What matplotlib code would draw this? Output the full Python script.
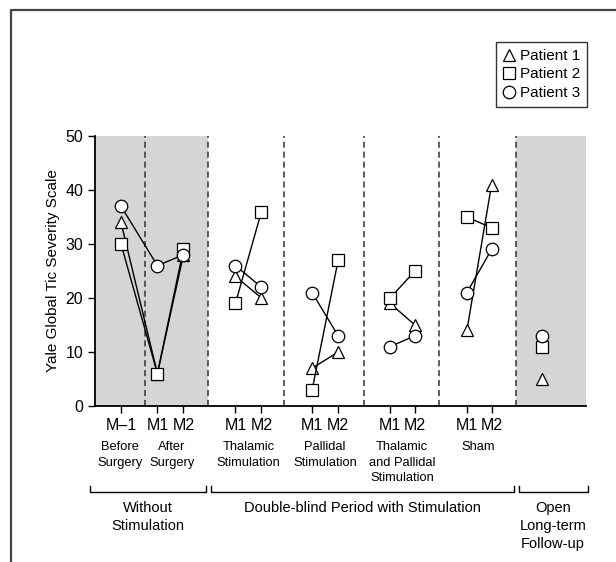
import matplotlib
matplotlib.use("Agg")
import matplotlib.pyplot as plt
from matplotlib.transforms import blended_transform_factory
from matplotlib.lines import Line2D

plt.rcParams['font.family'] = ['Liberation Sans', 'DejaVu Sans']

# x positions of the visits (categorical slots)
tick_pos = [1.0, 2.4, 3.4, 5.4, 6.4, 8.35, 9.35, 11.35, 12.3, 14.3, 15.25]
tick_labels = ["M\u20131", "M1", "M2", "M1", "M2", "M1", "M2", "M1", "M2", "M1", "M2"]
followup_pos = 17.2

# segments: which tick slots are joined by lines
segments = [(0, 1, 2), (3, 4), (5, 6), (7, 8), (9, 10)]

patient1 = [34, 6, 28, 24, 20, 7, 10, 19, 15, 14, 41]
patient2 = [30, 6, 29, 19, 36, 3, 27, 20, 25, 35, 33]
patient3 = [37, 26, 28, 26, 22, 21, 13, 11, 13, 21, 29]
followup = [5, 11, 13]  # patient 1, 2, 3

group_labels = ["Before\nSurgery", "After\nSurgery", "Thalamic\nStimulation",
                "Pallidal\nStimulation", "Thalamic\nand Pallidal\nStimulation", "Sham"]
group_x = [0.95, 2.95, 5.9, 8.85, 11.8, 14.75]
period_labels = ["Without\nStimulation", "Double-blind Period with Stimulation",
                 "Open\nLong-term\nFollow-up"]

dividers = [1.92, 4.35, 7.27, 10.35, 13.23, 16.19]
xmax = 18.88

fig = plt.figure(figsize=(6.16, 5.62), dpi=100)
ax = fig.add_axes([95/616, 1-406/562, (586-95)/616, 270/562])

gray = "#d4d5d7"
ax.axvspan(0, 4.35, color=gray, lw=0, zorder=0)
ax.axvspan(16.19, xmax, color=gray, lw=0, zorder=0)
for d in dividers:
    ax.axvline(d, color="#333333", lw=1.1, ls=(0, (4, 2.5)), zorder=1)

styles = [("^", patient1, "Patient 1"), ("s", patient2, "Patient 2"), ("o", patient3, "Patient 3")]
msize = {"^": 9, "s": 8, "o": 9}
for mk, vals, lab in styles:
    for seg in segments:
        xs = [tick_pos[i] for i in seg]
        ys = [vals[i] for i in seg]
        ax.plot(xs, ys, color="black", lw=1.0, marker=mk, ms=msize[mk],
                mfc="white", mec="black", mew=0.9, zorder=3)
for mk, v in zip(["^", "s", "o"], followup):
    ax.plot([followup_pos], [v], marker=mk, ms=msize[mk], mfc="white",
            mec="black", mew=0.9, ls="none", zorder=3)

ax.set_xlim(0, xmax)
ax.set_ylim(0, 50)
ax.set_yticks([0, 10, 20, 30, 40, 50])
ax.set_xticks(tick_pos)
ax.set_xticklabels(tick_labels)
ax.tick_params(axis="both", direction="out", length=5, width=1, labelsize=11.5, colors="black")
ax.tick_params(axis="x", pad=4)
for s in ["top", "right"]:
    ax.spines[s].set_visible(False)
for s in ["left", "bottom"]:
    ax.spines[s].set_linewidth(1.3)
ax.set_ylabel("Yale Global Tic Severity Scale", fontsize=11, labelpad=4)

tr = blended_transform_factory(ax.transData, fig.transFigure)
def fy(px):
    return 1 - px / 562

for gx, gl in zip(group_x, group_labels):
    ax.text(gx, fy(441), gl, transform=tr, ha="center", va="top", fontsize=9.3,
            linespacing=1.4)

brackets = [(-0.2, 4.25), (4.45, 16.1), (16.3, 18.95)]
for (x0, x1) in brackets:
    ax.add_line(Line2D([x0, x0, x1, x1], [fy(486), fy(492), fy(492), fy(486)],
                       transform=tr, color="black", lw=1.0, clip_on=False))
period_x = [2.05, 10.3, 17.6]
for px_, pl in zip(period_x, period_labels):
    ax.text(px_, fy(501), pl, transform=tr, ha="center", va="top", fontsize=10.5,
            linespacing=1.35)

# legend
handles = [Line2D([], [], marker=m, ls="none", mfc="white", mec="black", ms=msize[m], mew=0.9)
           for m, _, _ in styles]
leg = fig.legend(handles, [l for _, _, l in styles], loc="upper right",
                 bbox_to_anchor=(587/616, 1-42/562), fontsize=11, handlelength=0.8,
                 handletextpad=0.3, borderpad=0.45, labelspacing=0.3, frameon=True,
                 fancybox=False, edgecolor="black", borderaxespad=0)
leg.get_frame().set_linewidth(1.0)

# figure border (top and left)
fig.add_artist(Line2D([11/616, 11/616, 1], [0, 1-10/562, 1-10/562],
                      transform=fig.transFigure, color="#444444", lw=1.6))

fig.savefig("out.png", dpi=100)
